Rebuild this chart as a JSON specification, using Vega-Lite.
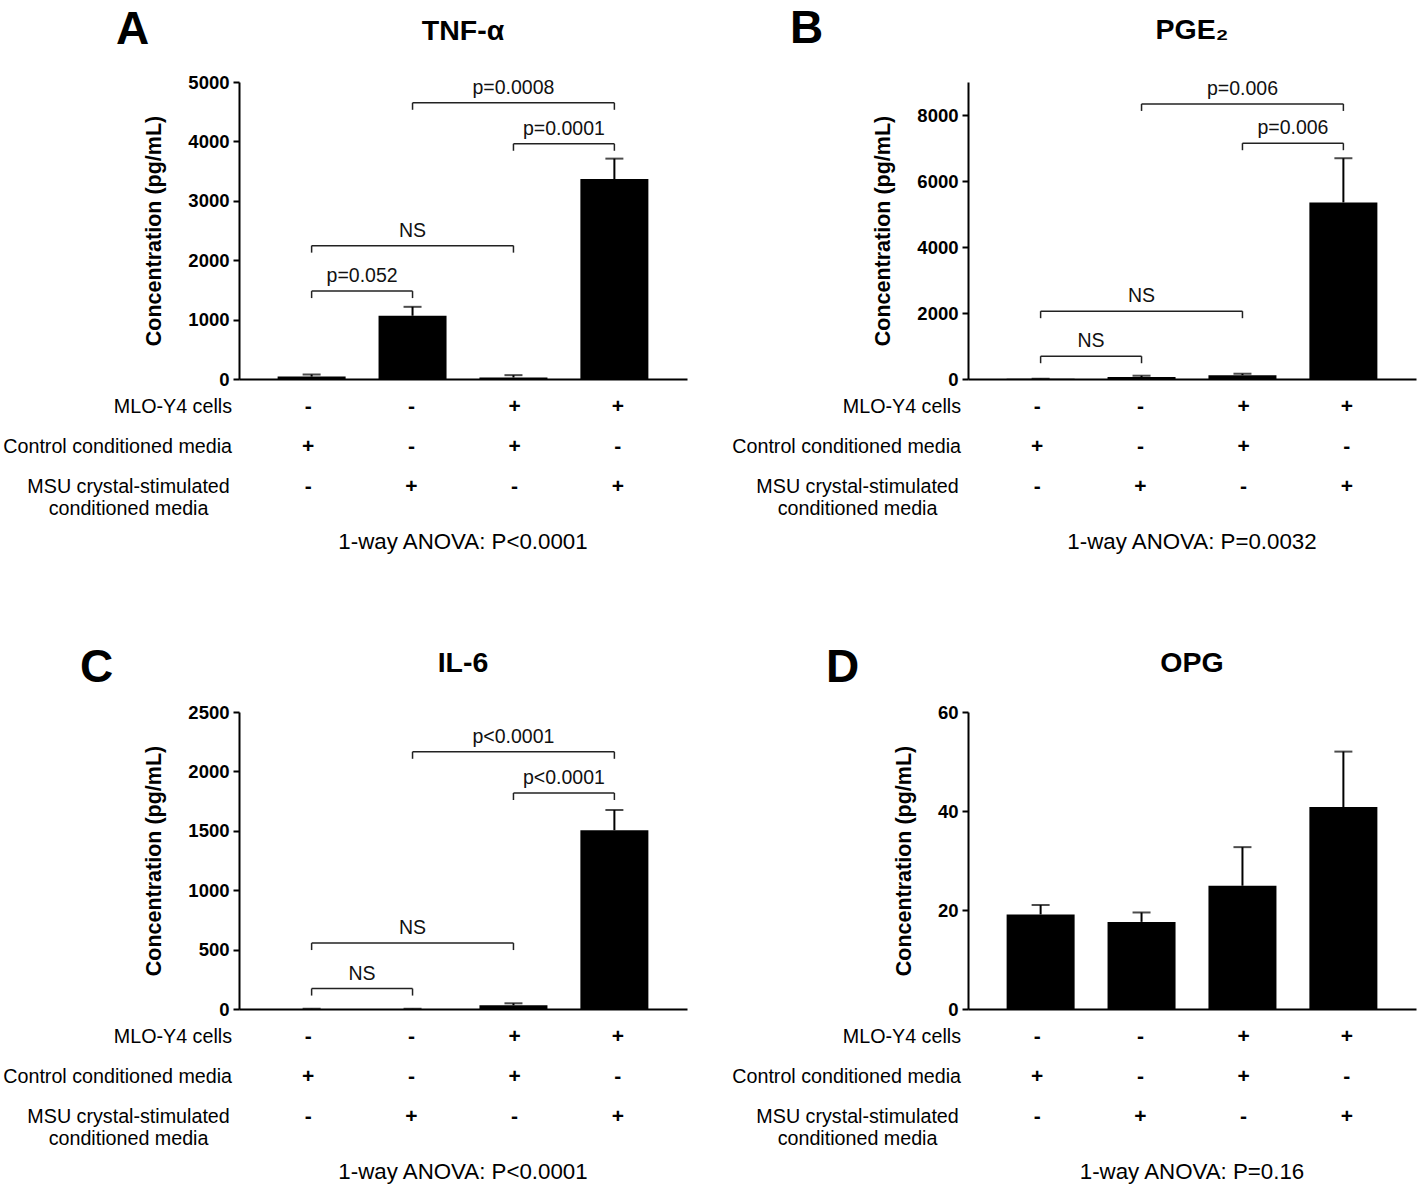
{
  "$schema": "https://vega.github.io/schema/vega-lite/v6.json",
  "padding": {"left": 3, "top": 6, "right": 4, "bottom": 2},
  "config": {
    "font": "Liberation Sans",
    "view": {"stroke": null},
    "axis": {"domainColor": "black", "domainWidth": 2, "tickColor": "black", "tickWidth": 2, "tickSize": 6, "labelFont": "Liberation Sans", "labelFontSize": 18.5, "labelFontWeight": "bold", "labelColor": "black", "labelPadding": 4, "titleFont": "Liberation Sans", "titleFontSize": 21.5, "titleFontWeight": "bold", "titleColor": "black", "titlePadding": 22, "grid": false, "format": "d"},
    "title": {"color": "black", "font": "Liberation Sans"},
    "text": {"color": "black", "font": "Liberation Sans"}
  },
  "datasets": {
    "table": [
      {"pos": 1, "row": "r1", "sym": "-"}, {"pos": 2, "row": "r1", "sym": "-"}, {"pos": 3, "row": "r1", "sym": "+"}, {"pos": 4, "row": "r1", "sym": "+"},
      {"pos": 1, "row": "r2", "sym": "+"}, {"pos": 2, "row": "r2", "sym": "-"}, {"pos": 3, "row": "r2", "sym": "+"}, {"pos": 4, "row": "r2", "sym": "-"},
      {"pos": 1, "row": "r3", "sym": "-"}, {"pos": 2, "row": "r3", "sym": "+"}, {"pos": 3, "row": "r3", "sym": "-"}, {"pos": 4, "row": "r3", "sym": "+"}
    ],
    "labels12": [{"row": "r1", "label": "MLO-Y4 cells"}, {"row": "r2", "label": "Control conditioned media"}],
    "label3": [{"row": "r3", "label": "MSU crystal-stimulated\nconditioned media"}],
    "tnf": [{"pos": 1, "mean": 40, "upper": 75}, {"pos": 2, "mean": 1065, "upper": 1215}, {"pos": 3, "mean": 25, "upper": 65}, {"pos": 4, "mean": 3365, "upper": 3710}],
    "tnfBr": [{"x1": 1, "x2": 2, "y": 1480, "label": "p=0.052"}, {"x1": 1, "x2": 3, "y": 2245, "label": "NS"}, {"x1": 3, "x2": 4, "y": 3960, "label": "p=0.0001"}, {"x1": 2, "x2": 4, "y": 4650, "label": "p=0.0008"}],
    "pge": [{"pos": 1, "mean": 5, "upper": 10}, {"pos": 2, "mean": 60, "upper": 100}, {"pos": 3, "mean": 115, "upper": 160}, {"pos": 4, "mean": 5350, "upper": 6690}],
    "pgeBr": [{"x1": 1, "x2": 2, "y": 690, "label": "NS"}, {"x1": 1, "x2": 3, "y": 2055, "label": "NS"}, {"x1": 3, "x2": 4, "y": 7145, "label": "p=0.006"}, {"x1": 2, "x2": 4, "y": 8335, "label": "p=0.006"}],
    "il6": [{"pos": 1, "mean": 1, "upper": 2}, {"pos": 2, "mean": 1, "upper": 2}, {"pos": 3, "mean": 31, "upper": 48}, {"pos": 4, "mean": 1505, "upper": 1675}],
    "il6Br": [{"x1": 1, "x2": 2, "y": 172, "label": "NS"}, {"x1": 1, "x2": 3, "y": 555, "label": "NS"}, {"x1": 3, "x2": 4, "y": 1818, "label": "p<0.0001"}, {"x1": 2, "x2": 4, "y": 2165, "label": "p<0.0001"}],
    "opg": [{"pos": 1, "mean": 19.1, "upper": 21.0}, {"pos": 2, "mean": 17.6, "upper": 19.5}, {"pos": 3, "mean": 24.9, "upper": 32.7}, {"pos": 4, "mean": 40.8, "upper": 52.0}]
  },
  "spacing": 91,
  "vconcat": [
    {
      "spacing": 45,
      "hconcat": [
        {
          "title": {"text": "A", "anchor": "start", "frame": "group", "fontSize": 46, "fontWeight": "bold", "dx": -123, "dy": 41},
          "spacing": 8, "bounds": "flush",
          "vconcat": [
            {
              "width": 448, "height": 297,
              "title": {"text": "TNF-α", "fontSize": 28.5, "fontWeight": "bold", "anchor": "middle", "frame": "group", "baseline": "alphabetic", "offset": 5},
              "layer": [
                {"data": {"name": "tnf"}, "mark": {"type": "bar", "width": 68, "color": "black"},
                 "encoding": {"x": {"field": "pos", "type": "quantitative", "scale": {"domain": [0.33, 4.67], "nice": false, "zero": false}, "axis": {"labels": false, "ticks": false, "title": null}},
                              "y": {"field": "mean", "type": "quantitative", "scale": {"domain": [0, 5000], "nice": false}, "axis": {"values": [0, 1000, 2000, 3000, 4000, 5000], "title": "Concentration (pg/mL)"}}}},
                {"data": {"name": "tnf"}, "mark": {"type": "rule", "strokeWidth": 2, "color": "black"},
                 "encoding": {"x": {"field": "pos", "type": "quantitative"}, "y": {"field": "mean", "type": "quantitative"}, "y2": {"field": "upper"}}},
                {"data": {"name": "tnf"}, "mark": {"type": "tick", "orient": "horizontal", "size": 18, "thickness": 2, "color": "black"},
                 "encoding": {"x": {"field": "pos", "type": "quantitative"}, "y": {"field": "upper", "type": "quantitative"}}},
                {"data": {"name": "tnfBr"}, "mark": {"type": "rule", "strokeWidth": 1.5, "color": "#222"},
                 "encoding": {"x": {"field": "x1", "type": "quantitative"}, "x2": {"field": "x2"}, "y": {"field": "y", "type": "quantitative"}}},
                {"data": {"name": "tnfBr"}, "mark": {"type": "rule", "strokeWidth": 1.5, "color": "#222", "y2Offset": 7},
                 "encoding": {"x": {"field": "x1", "type": "quantitative"}, "y": {"field": "y", "type": "quantitative"}, "y2": {"field": "y"}}},
                {"data": {"name": "tnfBr"}, "mark": {"type": "rule", "strokeWidth": 1.5, "color": "#222", "y2Offset": 7},
                 "encoding": {"x": {"field": "x2", "type": "quantitative"}, "y": {"field": "y", "type": "quantitative"}, "y2": {"field": "y"}}},
                {"data": {"name": "tnfBr"}, "transform": [{"fold": ["x1", "x2"], "as": ["end", "xv"]}],
                 "mark": {"type": "text", "fontSize": 19.5, "baseline": "alphabetic", "dy": -9, "color": "#111"},
                 "encoding": {"x": {"aggregate": "mean", "field": "xv", "type": "quantitative"}, "y": {"field": "y", "type": "quantitative"}, "text": {"field": "label", "type": "nominal"}}}
              ]
            },
            {
              "width": 448, "height": 120,
              "title": {"text": "1-way ANOVA: P<0.0001", "orient": "bottom", "fontSize": 22.3, "fontWeight": "normal", "anchor": "middle", "frame": "group", "offset": 12},
              "layer": [
                {"data": {"name": "table"}, "mark": {"type": "text", "fontSize": 21, "fontWeight": "bold", "baseline": "middle"},
                 "encoding": {"x": {"field": "pos", "type": "quantitative", "scale": {"domain": [0.33, 4.67], "nice": false, "zero": false}, "axis": null},
                              "y": {"field": "row", "type": "ordinal", "scale": {"type": "point", "domain": ["r1", "r2", "r3"], "padding": 0.5}, "axis": null},
                              "text": {"field": "sym"}}},
                {"data": {"name": "labels12"}, "mark": {"type": "text", "align": "right", "baseline": "middle", "fontSize": 19.7, "dx": -7},
                 "encoding": {"x": {"datum": 0.33, "type": "quantitative"}, "y": {"field": "row", "type": "ordinal"}, "text": {"field": "label"}}},
                {"data": {"name": "label3"}, "mark": {"type": "text", "align": "center", "baseline": "middle", "fontSize": 19.7, "lineBreak": "\n", "lineHeight": 22},
                 "encoding": {"x": {"datum": -0.74, "type": "quantitative"}, "y": {"field": "row", "type": "ordinal"}, "text": {"field": "label"}}}
              ]
            }
          ]
        },
        {
          "title": {"text": "B", "anchor": "start", "frame": "group", "fontSize": 46, "fontWeight": "bold", "dx": -178, "dy": 41},
          "spacing": 8, "bounds": "flush",
          "vconcat": [
            {
              "width": 448, "height": 297,
              "title": {"text": "PGE₂", "fontSize": 28.5, "fontWeight": "bold", "anchor": "middle", "frame": "group", "baseline": "alphabetic", "offset": 11},
              "layer": [
                {"data": {"name": "pge"}, "mark": {"type": "bar", "width": 68, "color": "black"},
                 "encoding": {"x": {"field": "pos", "type": "quantitative", "scale": {"domain": [0.33, 4.67], "nice": false, "zero": false}, "axis": {"labels": false, "ticks": false, "title": null}},
                              "y": {"field": "mean", "type": "quantitative", "scale": {"domain": [0, 9000], "nice": false}, "axis": {"values": [0, 2000, 4000, 6000, 8000], "title": "Concentration (pg/mL)"}}}},
                {"data": {"name": "pge"}, "mark": {"type": "rule", "strokeWidth": 2, "color": "black"},
                 "encoding": {"x": {"field": "pos", "type": "quantitative"}, "y": {"field": "mean", "type": "quantitative"}, "y2": {"field": "upper"}}},
                {"data": {"name": "pge"}, "mark": {"type": "tick", "orient": "horizontal", "size": 18, "thickness": 2, "color": "black"},
                 "encoding": {"x": {"field": "pos", "type": "quantitative"}, "y": {"field": "upper", "type": "quantitative"}}},
                {"data": {"name": "pgeBr"}, "mark": {"type": "rule", "strokeWidth": 1.5, "color": "#222"},
                 "encoding": {"x": {"field": "x1", "type": "quantitative"}, "x2": {"field": "x2"}, "y": {"field": "y", "type": "quantitative"}}},
                {"data": {"name": "pgeBr"}, "mark": {"type": "rule", "strokeWidth": 1.5, "color": "#222", "y2Offset": 7},
                 "encoding": {"x": {"field": "x1", "type": "quantitative"}, "y": {"field": "y", "type": "quantitative"}, "y2": {"field": "y"}}},
                {"data": {"name": "pgeBr"}, "mark": {"type": "rule", "strokeWidth": 1.5, "color": "#222", "y2Offset": 7},
                 "encoding": {"x": {"field": "x2", "type": "quantitative"}, "y": {"field": "y", "type": "quantitative"}, "y2": {"field": "y"}}},
                {"data": {"name": "pgeBr"}, "transform": [{"fold": ["x1", "x2"], "as": ["end", "xv"]}],
                 "mark": {"type": "text", "fontSize": 19.5, "baseline": "alphabetic", "dy": -9, "color": "#111"},
                 "encoding": {"x": {"aggregate": "mean", "field": "xv", "type": "quantitative"}, "y": {"field": "y", "type": "quantitative"}, "text": {"field": "label", "type": "nominal"}}}
              ]
            },
            {
              "width": 448, "height": 120,
              "title": {"text": "1-way ANOVA: P=0.0032", "orient": "bottom", "fontSize": 22.3, "fontWeight": "normal", "anchor": "middle", "frame": "group", "offset": 12},
              "layer": [
                {"data": {"name": "table"}, "mark": {"type": "text", "fontSize": 21, "fontWeight": "bold", "baseline": "middle"},
                 "encoding": {"x": {"field": "pos", "type": "quantitative", "scale": {"domain": [0.33, 4.67], "nice": false, "zero": false}, "axis": null},
                              "y": {"field": "row", "type": "ordinal", "scale": {"type": "point", "domain": ["r1", "r2", "r3"], "padding": 0.5}, "axis": null},
                              "text": {"field": "sym"}}},
                {"data": {"name": "labels12"}, "mark": {"type": "text", "align": "right", "baseline": "middle", "fontSize": 19.7, "dx": -7},
                 "encoding": {"x": {"datum": 0.33, "type": "quantitative"}, "y": {"field": "row", "type": "ordinal"}, "text": {"field": "label"}}},
                {"data": {"name": "label3"}, "mark": {"type": "text", "align": "center", "baseline": "middle", "fontSize": 19.7, "lineBreak": "\n", "lineHeight": 22},
                 "encoding": {"x": {"datum": -0.74, "type": "quantitative"}, "y": {"field": "row", "type": "ordinal"}, "text": {"field": "label"}}}
              ]
            }
          ]
        }
      ]
    },
    {
      "spacing": 45,
      "hconcat": [
        {
          "title": {"text": "C", "anchor": "start", "frame": "group", "fontSize": 46, "fontWeight": "bold", "dx": -159, "dy": 47},
          "spacing": 8, "bounds": "flush",
          "vconcat": [
            {
              "width": 448, "height": 297,
              "title": {"text": "IL-6", "fontSize": 28.5, "fontWeight": "bold", "anchor": "middle", "frame": "group", "baseline": "alphabetic", "offset": 3},
              "layer": [
                {"data": {"name": "il6"}, "mark": {"type": "bar", "width": 68, "color": "black"},
                 "encoding": {"x": {"field": "pos", "type": "quantitative", "scale": {"domain": [0.33, 4.67], "nice": false, "zero": false}, "axis": {"labels": false, "ticks": false, "title": null}},
                              "y": {"field": "mean", "type": "quantitative", "scale": {"domain": [0, 2500], "nice": false}, "axis": {"values": [0, 500, 1000, 1500, 2000, 2500], "title": "Concentration (pg/mL)"}}}},
                {"data": {"name": "il6"}, "mark": {"type": "rule", "strokeWidth": 2, "color": "black"},
                 "encoding": {"x": {"field": "pos", "type": "quantitative"}, "y": {"field": "mean", "type": "quantitative"}, "y2": {"field": "upper"}}},
                {"data": {"name": "il6"}, "mark": {"type": "tick", "orient": "horizontal", "size": 18, "thickness": 2, "color": "black"},
                 "encoding": {"x": {"field": "pos", "type": "quantitative"}, "y": {"field": "upper", "type": "quantitative"}}},
                {"data": {"name": "il6Br"}, "mark": {"type": "rule", "strokeWidth": 1.5, "color": "#222"},
                 "encoding": {"x": {"field": "x1", "type": "quantitative"}, "x2": {"field": "x2"}, "y": {"field": "y", "type": "quantitative"}}},
                {"data": {"name": "il6Br"}, "mark": {"type": "rule", "strokeWidth": 1.5, "color": "#222", "y2Offset": 7},
                 "encoding": {"x": {"field": "x1", "type": "quantitative"}, "y": {"field": "y", "type": "quantitative"}, "y2": {"field": "y"}}},
                {"data": {"name": "il6Br"}, "mark": {"type": "rule", "strokeWidth": 1.5, "color": "#222", "y2Offset": 7},
                 "encoding": {"x": {"field": "x2", "type": "quantitative"}, "y": {"field": "y", "type": "quantitative"}, "y2": {"field": "y"}}},
                {"data": {"name": "il6Br"}, "transform": [{"fold": ["x1", "x2"], "as": ["end", "xv"]}],
                 "mark": {"type": "text", "fontSize": 19.5, "baseline": "alphabetic", "dy": -9, "color": "#111"},
                 "encoding": {"x": {"aggregate": "mean", "field": "xv", "type": "quantitative"}, "y": {"field": "y", "type": "quantitative"}, "text": {"field": "label", "type": "nominal"}}}
              ]
            },
            {
              "width": 448, "height": 120,
              "title": {"text": "1-way ANOVA: P<0.0001", "orient": "bottom", "fontSize": 22.3, "fontWeight": "normal", "anchor": "middle", "frame": "group", "offset": 12},
              "layer": [
                {"data": {"name": "table"}, "mark": {"type": "text", "fontSize": 21, "fontWeight": "bold", "baseline": "middle"},
                 "encoding": {"x": {"field": "pos", "type": "quantitative", "scale": {"domain": [0.33, 4.67], "nice": false, "zero": false}, "axis": null},
                              "y": {"field": "row", "type": "ordinal", "scale": {"type": "point", "domain": ["r1", "r2", "r3"], "padding": 0.5}, "axis": null},
                              "text": {"field": "sym"}}},
                {"data": {"name": "labels12"}, "mark": {"type": "text", "align": "right", "baseline": "middle", "fontSize": 19.7, "dx": -7},
                 "encoding": {"x": {"datum": 0.33, "type": "quantitative"}, "y": {"field": "row", "type": "ordinal"}, "text": {"field": "label"}}},
                {"data": {"name": "label3"}, "mark": {"type": "text", "align": "center", "baseline": "middle", "fontSize": 19.7, "lineBreak": "\n", "lineHeight": 22},
                 "encoding": {"x": {"datum": -0.74, "type": "quantitative"}, "y": {"field": "row", "type": "ordinal"}, "text": {"field": "label"}}}
              ]
            }
          ]
        },
        {
          "title": {"text": "D", "anchor": "start", "frame": "group", "fontSize": 46, "fontWeight": "bold", "dx": -142, "dy": 47},
          "spacing": 8, "bounds": "flush",
          "vconcat": [
            {
              "width": 448, "height": 297,
              "title": {"text": "OPG", "fontSize": 28.5, "fontWeight": "bold", "anchor": "middle", "frame": "group", "baseline": "alphabetic", "offset": 3},
              "layer": [
                {"data": {"name": "opg"}, "mark": {"type": "bar", "width": 68, "color": "black"},
                 "encoding": {"x": {"field": "pos", "type": "quantitative", "scale": {"domain": [0.33, 4.67], "nice": false, "zero": false}, "axis": {"labels": false, "ticks": false, "title": null}},
                              "y": {"field": "mean", "type": "quantitative", "scale": {"domain": [0, 60], "nice": false}, "axis": {"values": [0, 20, 40, 60], "title": "Concentration (pg/mL)"}}}},
                {"data": {"name": "opg"}, "mark": {"type": "rule", "strokeWidth": 2, "color": "black"},
                 "encoding": {"x": {"field": "pos", "type": "quantitative"}, "y": {"field": "mean", "type": "quantitative"}, "y2": {"field": "upper"}}},
                {"data": {"name": "opg"}, "mark": {"type": "tick", "orient": "horizontal", "size": 18, "thickness": 2, "color": "black"},
                 "encoding": {"x": {"field": "pos", "type": "quantitative"}, "y": {"field": "upper", "type": "quantitative"}}}
              ]
            },
            {
              "width": 448, "height": 120,
              "title": {"text": "1-way ANOVA: P=0.16", "orient": "bottom", "fontSize": 22.3, "fontWeight": "normal", "anchor": "middle", "frame": "group", "offset": 12},
              "layer": [
                {"data": {"name": "table"}, "mark": {"type": "text", "fontSize": 21, "fontWeight": "bold", "baseline": "middle"},
                 "encoding": {"x": {"field": "pos", "type": "quantitative", "scale": {"domain": [0.33, 4.67], "nice": false, "zero": false}, "axis": null},
                              "y": {"field": "row", "type": "ordinal", "scale": {"type": "point", "domain": ["r1", "r2", "r3"], "padding": 0.5}, "axis": null},
                              "text": {"field": "sym"}}},
                {"data": {"name": "labels12"}, "mark": {"type": "text", "align": "right", "baseline": "middle", "fontSize": 19.7, "dx": -7},
                 "encoding": {"x": {"datum": 0.33, "type": "quantitative"}, "y": {"field": "row", "type": "ordinal"}, "text": {"field": "label"}}},
                {"data": {"name": "label3"}, "mark": {"type": "text", "align": "center", "baseline": "middle", "fontSize": 19.7, "lineBreak": "\n", "lineHeight": 22},
                 "encoding": {"x": {"datum": -0.74, "type": "quantitative"}, "y": {"field": "row", "type": "ordinal"}, "text": {"field": "label"}}}
              ]
            }
          ]
        }
      ]
    }
  ]
}
